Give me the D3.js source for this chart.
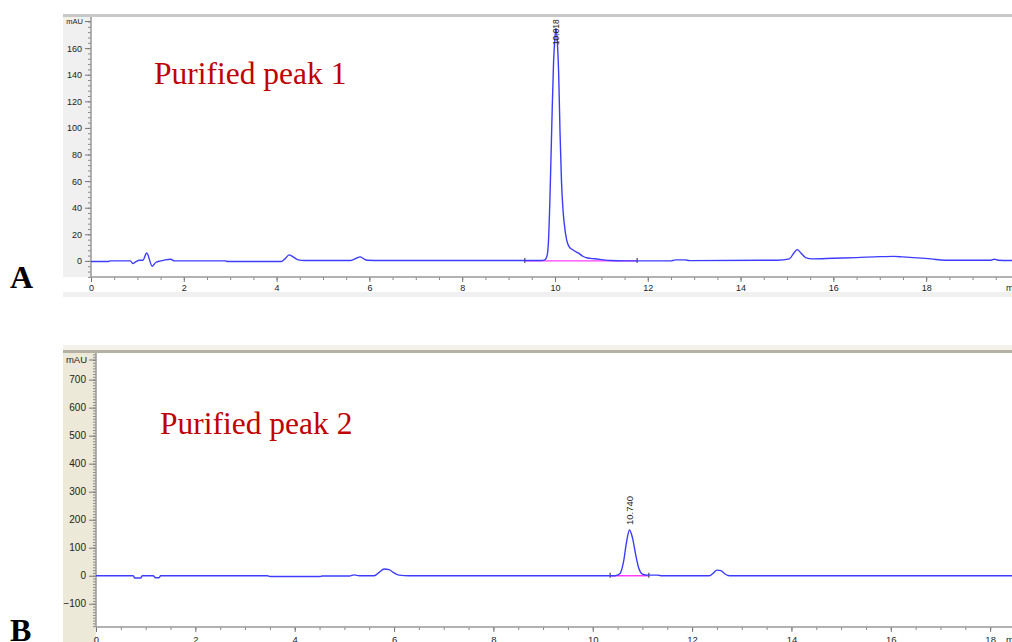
<!DOCTYPE html>
<html><head><meta charset="utf-8">
<script src="https://cdn.jsdelivr.net/npm/d3@7"></script>
<style>
html,body{margin:0;padding:0;background:#fff;}
svg{display:block;}
</style></head>
<body>
<svg id="c" width="1012" height="642"></svg>
<script>
// ---------- DATA ----------
// Panel A: "Purified peak 1"
const timeA = [0,0.38,0.4,0.85,0.9,0.97,1.05,1.12,1.2,1.32,1.4,1.5,1.6,1.72,1.8,2.9,2.95,4.1,4.18,4.27,4.38,4.45,4.6,5.6,5.72,5.8,5.88,5.95,6.3,9.7,9.78,9.83,9.86,9.89,9.93,9.97,10.0,10.02,10.05,10.08,10.11,10.14,10.17,10.2,10.25,10.3,10.4,10.5,10.6,10.7,10.85,11.0,11.2,11.5,12.5,12.6,12.8,12.9,14.8,15.05,15.15,15.22,15.3,15.4,15.55,16.0,16.5,17.0,17.3,17.5,17.8,18.1,18.4,19.4,19.47,19.55,19.85];
const mauA  = [-0.5,-0.5,0,0,-2,-0.5,0.5,0.5,6,-4,-1,0,0.8,1.2,0,0,-0.5,-0.5,1.5,4.5,2.5,1,0.3,0.3,2,3,1.5,0.5,0.3,0.3,0.8,4,15,45,100,150,168,175,165,140,95,60,40,28,16,11,8,6,3.5,2.2,1.6,1,0.3,0,0,0.8,0.8,0.2,0.5,1.5,6,8.5,6,2.5,1.5,2,2.5,3.2,3.4,3,2.3,1.5,0.5,0.5,1.3,0.5,0.3];
const peakA = {time: 10.018, mau: 175, label: "10.018", baseStart: 9.35, baseEnd: 11.77};
const yTicksA = [0,20,40,60,80,100,120,140,160];
const xTicksA = [0,2,4,6,8,10,12,14,16,18];
const titleA = "Purified peak 1";

// Panel B: "Purified peak 2"
const timeB = [0,0.75,0.78,0.9,0.93,1.15,1.2,1.27,1.3,3.45,3.5,4.5,4.55,5.1,5.2,5.3,5.6,5.7,5.8,5.9,6.0,6.1,6.3,10.45,10.55,10.62,10.68,10.74,10.8,10.87,10.93,11.0,11.1,11.3,11.4,12.35,12.42,12.5,12.58,12.65,12.72,12.8,18.44];
const mauB  = [0,0,-8,-8,0,0,-7,-7,0,0,-3,-3,-1,-1,3,0,0,12,24,22,10,2,0,0,8,50,120,163,135,70,25,6,2,2,0,0,8,20,18,8,1,0,0];
const peakB = {time: 10.74, mau: 163, label: "10.740", baseStart: 10.35, baseEnd: 11.13};
const yTicksB = [-100,0,100,200,300,400,500,600,700];
const xTicksB = [0,2,4,6,8,10,12,14,16,18];
const titleB = "Purified peak 2";

// ---------- DRAW ----------
const svg = d3.select("#c");

function panel(cfg) {
  const g = svg.append("g");
  // backgrounds
  g.append("rect").attr("x", cfg.bx).attr("y", cfg.by).attr("width", 1012 - cfg.bx).attr("height", cfg.bh).attr("fill", cfg.bg);
  if (cfg.topLight) g.append("rect").attr("x", cfg.bx).attr("y", cfg.by).attr("width", 1012 - cfg.bx).attr("height", cfg.topLightH).attr("fill", cfg.topLight);
  g.append("rect").attr("x", cfg.bx).attr("y", cfg.topY).attr("width", 1012 - cfg.bx).attr("height", 3).attr("fill", cfg.topLine);
  const x = d3.scaleLinear().domain(cfg.xDomain).range([cfg.left, 1012]);
  const y = d3.scaleLinear().domain(cfg.yDomain).range([cfg.bottom, cfg.top]);
  // white plot area
  g.append("rect").attr("x", cfg.left).attr("y", cfg.top).attr("width", 1012 - cfg.left).attr("height", cfg.bottom - cfg.top).attr("fill", "#fff");
  g.append("rect").attr("x", cfg.labelBandX).attr("y", cfg.bottom).attr("width", 1012 - cfg.labelBandX).attr("height", cfg.labelBandH).attr("fill", "#fff");

  // y axis minor
  const yMinor = d3.range(cfg.yMinor[0], cfg.yMinor[1] + 0.001, cfg.yMinor[2]);
  const ay = g.append("g").attr("transform", `translate(${cfg.left},0)`)
    .call(d3.axisLeft(y).tickValues(yMinor).tickSize(3).tickFormat(""));
  ay.select(".domain").remove();
  ay.selectAll("line").attr("stroke", "#888");
  const ay2 = g.append("g").attr("transform", `translate(${cfg.left},0)`)
    .call(d3.axisLeft(y).tickValues(cfg.yTicks).tickSize(cfg.yMajorLen).tickPadding(3).tickFormat(d3.format("d")));
  ay2.select(".domain").remove();
  ay2.selectAll("line").attr("stroke", "#777");
  ay2.selectAll("text").attr("font-family", "Liberation Sans, Arial, sans-serif").attr("font-size", cfg.yFont).attr("fill", "#222");
  // mAU label
  g.append("line").attr("x1", cfg.left - cfg.yMajorLen).attr("x2", cfg.left).attr("y1", y(cfg.mauAt)).attr("y2", y(cfg.mauAt)).attr("stroke", "#777");
  g.append("text").attr("x", cfg.left - cfg.yMajorLen - 2).attr("y", y(cfg.mauAt)).attr("dy", "0.35em")
    .attr("text-anchor", "end").attr("font-family", "Liberation Sans, Arial, sans-serif").attr("font-size", cfg.mauFont).attr("fill", "#222").text("mAU");
  g.append("line").attr("x1", cfg.left).attr("x2", cfg.left).attr("y1", cfg.top).attr("y2", cfg.bottom).attr("stroke", "#999").attr("stroke-width", 1.5);

  // x axis
  const xMinor = d3.range(0, cfg.xDomain[1], 0.5);
  const ax = g.append("g").attr("transform", `translate(0,${cfg.bottom})`)
    .call(d3.axisBottom(x).tickValues(xMinor).tickSize(3).tickFormat(""));
  ax.select(".domain").remove();
  ax.selectAll("line").attr("stroke", "#888");
  const ax2 = g.append("g").attr("transform", `translate(0,${cfg.bottom})`)
    .call(d3.axisBottom(x).tickValues(cfg.xTicks).tickSize(5).tickPadding(cfg.xPad).tickFormat(d3.format("d")));
  ax2.select(".domain").remove();
  ax2.selectAll("line").attr("stroke", "#777");
  ax2.selectAll("text").attr("font-family", "Liberation Sans, Arial, sans-serif").attr("font-size", cfg.xFont).attr("fill", "#222");
  g.append("line").attr("x1", cfg.left).attr("x2", 1012).attr("y1", cfg.bottom).attr("y2", cfg.bottom).attr("stroke", "#999").attr("stroke-width", 1.5);
  g.append("text").attr("x", 1006).attr("y", cfg.bottom + 5 + cfg.xPad).attr("dy", "0.71em")
    .attr("font-family", "Liberation Sans, Arial, sans-serif").attr("font-size", cfg.xFont).attr("fill", "#222").text("min");

  // integration baseline
  g.append("line").attr("x1", x(cfg.peak.baseStart)).attr("x2", x(cfg.peak.baseEnd))
    .attr("y1", y(0)).attr("y2", y(0)).attr("stroke", "#ff3cff").attr("stroke-width", 1.3);
  [cfg.peak.baseStart, cfg.peak.baseEnd].forEach(t => {
    g.append("line").attr("x1", x(t)).attr("x2", x(t)).attr("y1", y(0) - 3).attr("y2", y(0) + 2).attr("stroke", "#222").attr("stroke-width", 1);
  });

  // trace
  const pts = cfg.time.map((t, i) => [t, cfg.mau[i]]);
  g.append("path").datum(pts)
    .attr("d", d3.line().x(d => x(d[0])).y(d => y(d[1])).curve(d3.curveMonotoneX))
    .attr("fill", "none").attr("stroke", "#3c3cff").attr("stroke-width", 1.4);

  // peak label
  const px = x(cfg.peak.time), py = y(cfg.peak.mau) - cfg.labelGap;
  g.append("text").attr("transform", `translate(${px},${py}) rotate(-90)`).attr("dy", "0.35em")
    .attr("font-family", "Liberation Sans, Arial, sans-serif").attr("font-size", cfg.peakFont).attr("fill", "#222").text(cfg.peak.label);

  // title
  g.append("text").attr("x", cfg.titleX).attr("y", cfg.titleY)
    .attr("font-family", "Liberation Serif, Times New Roman, serif").attr("font-size", 31.5).attr("fill", "#c00000").text(cfg.title);
  // panel letter
  g.append("text").attr("x", 10).attr("y", cfg.letterY)
    .attr("font-family", "Liberation Serif, Times New Roman, serif").attr("font-weight", "bold").attr("font-size", 32).attr("fill", "#000").text(cfg.letter);
}

panel({
  bx: 63, by: 14, bh: 283, bg: "#f0f0f0", topY: 14, topLine: "#c8c8c8",
  left: 91, top: 17, bottom: 277, labelBandX: 63, labelBandH: 15,
  xDomain: [0, 19.85], yDomain: [-12.1, 183.4],
  yTicks: yTicksA, xTicks: xTicksA, yMinor: [-12, 180, 4], yMajorLen: 6, mauAt: 180,
  yFont: 9, mauFont: 7.5, xFont: 9, xPad: 3, peakFont: 8.5, labelGap: -17,
  time: timeA, mau: mauA, peak: peakA,
  title: titleA, titleX: 154, titleY: 84, letter: "A", letterY: 288
});

panel({
  bx: 63, by: 345, bh: 297, bg: "#ece9d8", topLight: "#f3f1ea", topLightH: 5, topY: 350, topLine: "#b4b0a2",
  left: 96, top: 353, bottom: 627, labelBandX: 96, labelBandH: 15,
  xDomain: [0, 18.44], yDomain: [-183, 795],
  yTicks: yTicksB, xTicks: xTicksB, yMinor: [-180, 790, 10], yMajorLen: 7, mauAt: 770,
  yFont: 10, mauFont: 9.5, xFont: 9.5, xPad: 4, peakFont: 9.5, labelGap: 5,
  time: timeB, mau: mauB, peak: peakB,
  title: titleB, titleX: 160, titleY: 434, letter: "B", letterY: 641
});
</script>
</body></html>
